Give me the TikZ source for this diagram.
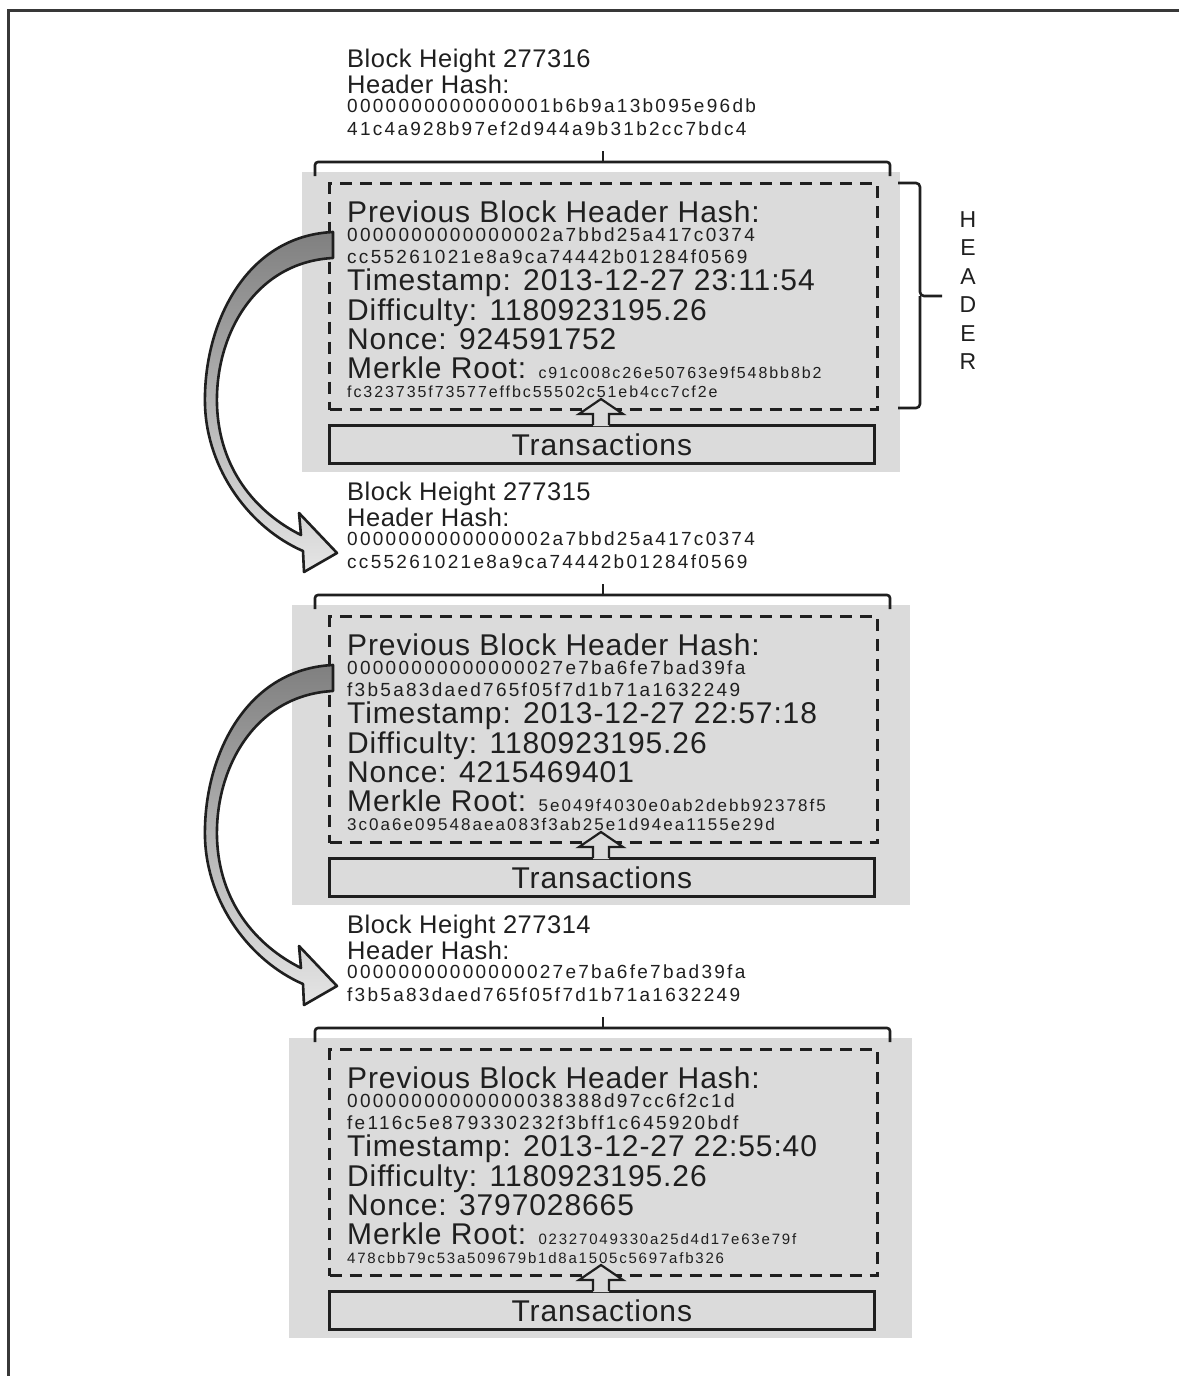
\documentclass[tikz,border=0pt]{standalone}
\usepackage{fontspec}
\setmainfont{Liberation Sans}
\newfontfamily\bigfont[LetterSpace=3]{Liberation Sans}
\newfontfamily\hashfont[LetterSpace=12]{Liberation Sans}
\newfontfamily\titlefont[LetterSpace=2]{Liberation Sans}

\tikzset{
  ink/.style={draw=black!88, line width=2.6pt},
  frameline/.style={draw=black!78, line width=3pt},
  greybox/.style={fill=black!14, draw=none, inner sep=0pt, anchor=north west},
  dashbox/.style={draw=black!88, line width=3pt, dash pattern=on 12pt off 8pt, inner sep=0pt, anchor=north west},
  txbox/.style={draw=black!88, line width=2.6pt, fill=black!14, inner sep=0pt, anchor=north west,
    text=black!88, font=\bigfont\fontsize{30}{36}\selectfont},
  caption/.style={anchor=base west, inner sep=0pt, text=black!88, font=\titlefont\fontsize{25.5}{30}\selectfont},
  hashtxt/.style={anchor=base west, inner sep=0pt, text=black!88, font=\hashfont\fontsize{19}{22}\selectfont},
  big/.style={anchor=base west, inner sep=0pt, text=black!88, font=\bigfont\fontsize{30}{36}\selectfont},
  merkhash/.style={anchor=base west, inner sep=0pt, text=black!88, font=\hashfont\fontsize{\bkMerkSize}{20}\selectfont},
  linkarrow/.style={draw=black!88, line width=2.6pt, line join=round, top color=black!50, bottom color=black!10},
}

% #1 name prefix, #2 vertical offset, #3 left edge of grey body, #4 width of grey body
\newcommand\chainblock[4]{%
\begin{scope}[shift={(0,#2)}]
  \node[greybox, minimum width=#4, minimum height=300pt] (#1-body) at (#3,172) {};
  % caption above the block
  \node[caption] (#1-height) at (347,67) {Block Height \bkHeight};
  \node[caption] (#1-hhlbl) at (347,93) {Header Hash:};
  \node[hashtxt] (#1-hashA) at (347,112) {\bkHashA};
  \node[hashtxt] (#1-hashB) at (347,135) {\bkHashB};
  % brace over the whole block
  \draw[ink, rounded corners=3pt] (315,176) -- (315,162) -- (890,162) -- (890,176);
  \draw[ink] (603,163) -- (603,151);
  % header fields
  \node[dashbox, minimum width=548pt, minimum height=226pt] (#1-head) at (328,182) {};
  \node[big] (#1-prevlbl) at (347,222) {Previous Block Header Hash:};
  \node[hashtxt] (#1-prevA) at (347,241) {\bkPrevA};
  \node[hashtxt] (#1-prevB) at (347,263) {\bkPrevB};
  \node[big] (#1-time) at (347,290) {Timestamp: \bkTime};
  \node[big] (#1-diff) at (347,320) {Difficulty: 1180923195.26};
  \node[big] (#1-nonce) at (347,349) {Nonce: \bkNonce};
  \node[big] (#1-merkle) at (347,378) {Merkle Root: {\hashfont\fontsize{\bkMerkSize}{20}\selectfont\bkMerkA}};
  \node[merkhash] (#1-merkB) at (347,397) {\bkMerkB};
  % transactions and the small arrow up into the header
  \node[txbox, minimum width=545pt, minimum height=38pt] (#1-tx) at (328,424) {Transactions};
  \fill[black!14] (593,426) -- (593,414) -- (579,414) -- (601,399) -- (623,414) -- (609,414) -- (609,426) -- cycle;
  \draw[ink, line width=2.2pt, line join=miter] (593,425) -- (593,414) -- (579,414) -- (601,399) -- (623,414) -- (609,414) -- (609,425);
\end{scope}}

% curved arrow from a previous-hash field to the next block's caption
\newcommand\linkto[1]{%
\begin{scope}[shift={(0,#1)}]
  \path[linkarrow]
    (333,232) .. controls (245,236) and (203,325) .. (205,405)
    .. controls (207,470) and (250,528) .. (303,551)
    -- (304,572) -- (337,553) -- (299,513) -- (301,535)
    .. controls (255,512) and (219,468) .. (217,405)
    .. controls (215,335) and (255,262) .. (333,258) -- cycle;
\end{scope}}

\begin{document}
\begin{tikzpicture}[x=1pt, y=-1pt]
  \useasboundingbox (0,0) rectangle (1179,1376);
  \fill[white] (0,0) rectangle (1179,1376);
  \draw[frameline] (1179,10) -- (8,10) -- (8,1376);

  % block 277316
  \def\bkHeight{277316}
  \def\bkHashA{0000000000000001b6b9a13b095e96db}
  \def\bkHashB{41c4a928b97ef2d944a9b31b2cc7bdc4}
  \def\bkPrevA{0000000000000002a7bbd25a417c0374}
  \def\bkPrevB{cc55261021e8a9ca74442b01284f0569}
  \def\bkTime{2013-12-27 23:11:54}
  \def\bkNonce{924591752}
  \def\bkMerkA{c91c008c26e50763e9f548bb8b2}
  \def\bkMerkB{fc323735f73577effbc55502c51eb4cc7cf2e}
  \def\bkMerkSize{16}
  \chainblock{b1}{0}{302}{598pt}

  % header brace and label
  \draw[ink, rounded corners=4pt] (898,183) -- (920,183) -- (920,296) -- (942,296);
  \draw[ink, rounded corners=4pt] (898,408) -- (920,408) -- (920,296);
  \node[anchor=north, inner sep=0pt, align=center, text=black!88, font=\fontsize{23}{28.5}\selectfont]
    (hdrlabel) at (968,211) {H\\E\\A\\D\\E\\R};

  % block 277315
  \def\bkHeight{277315}
  \def\bkHashA{0000000000000002a7bbd25a417c0374}
  \def\bkHashB{cc55261021e8a9ca74442b01284f0569}
  \def\bkPrevA{00000000000000027e7ba6fe7bad39fa}
  \def\bkPrevB{f3b5a83daed765f05f7d1b71a1632249}
  \def\bkTime{2013-12-27 22:57:18}
  \def\bkNonce{4215469401}
  \def\bkMerkA{5e049f4030e0ab2debb92378f5}
  \def\bkMerkB{3c0a6e09548aea083f3ab25e1d94ea1155e29d}
  \def\bkMerkSize{17}
  \chainblock{b2}{433}{292}{618pt}

  % block 277314
  \def\bkHeight{277314}
  \def\bkHashA{00000000000000027e7ba6fe7bad39fa}
  \def\bkHashB{f3b5a83daed765f05f7d1b71a1632249}
  \def\bkPrevA{00000000000000038388d97cc6f2c1d}
  \def\bkPrevB{fe116c5e879330232f3bff1c645920bdf}
  \def\bkTime{2013-12-27 22:55:40}
  \def\bkNonce{3797028665}
  \def\bkMerkA{02327049330a25d4d17e63e79f}
  \def\bkMerkB{478cbb79c53a509679b1d8a1505c5697afb326}
  \def\bkMerkSize{15}
  \chainblock{b3}{866}{289}{623pt}

  % links between consecutive blocks
  \linkto{0}
  \linkto{433}
\end{tikzpicture}
\end{document}
